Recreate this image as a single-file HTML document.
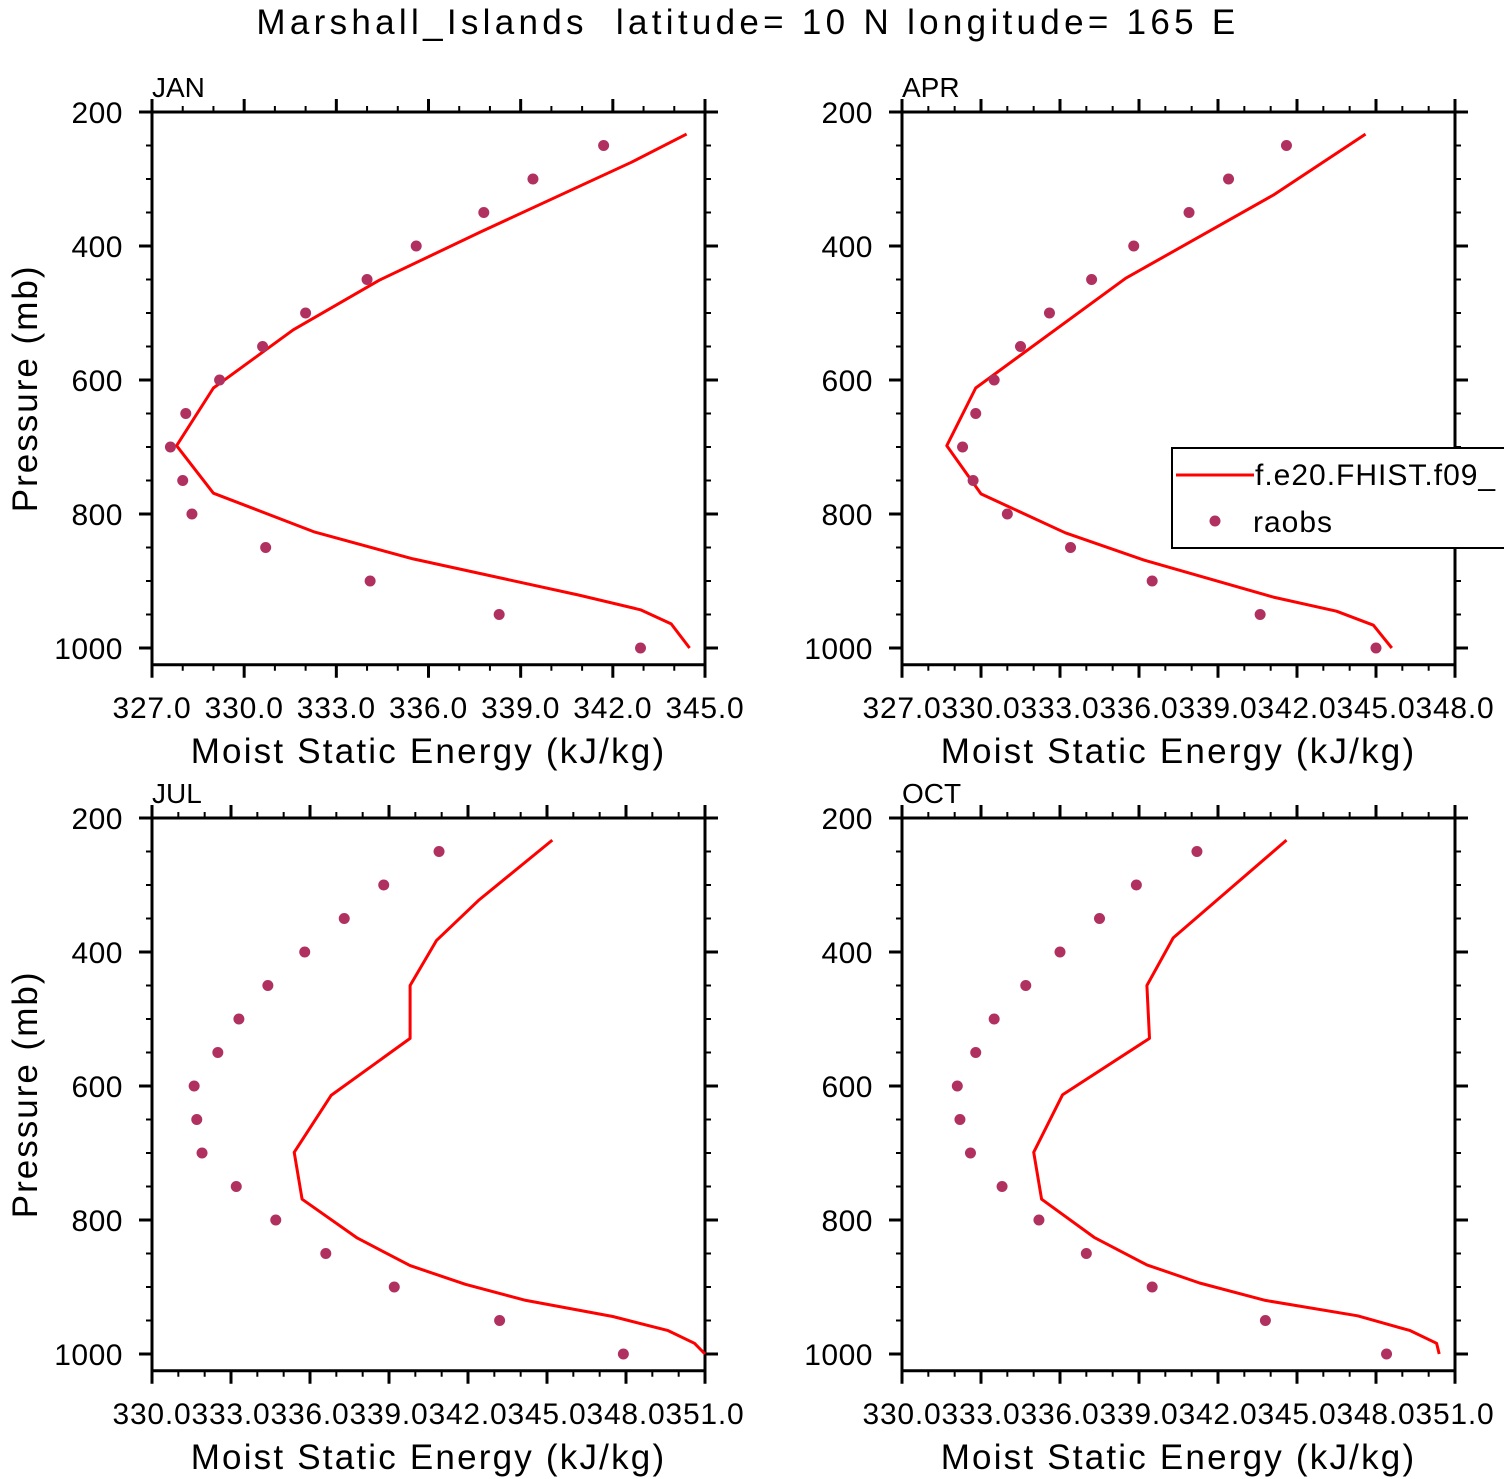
<!DOCTYPE html>
<html><head><meta charset="utf-8"><style>
html,body{margin:0;padding:0;background:#fff;}
svg{display:block;font-family:"Liberation Sans",sans-serif;}
</style></head><body>
<svg id="fig" width="1504" height="1479" viewBox="0 0 1504 1479">
<text x="748" y="34" text-anchor="middle" font-size="35" letter-spacing="4.3" style="white-space:pre">Marshall_Islands  latitude= 10 N longitude= 165 E</text>
</svg>
<script>
// Panel data
const janModelP = [233,275,379,451,525,612,698,769,827,867,921,943,964,1000];
const janModelV = [344.4,342.6,337.7,334.4,331.6,329.0,327.8,329.0,332.3,335.5,340.9,342.9,343.9,344.5];
const aprModelP = [233,324,448,612,698,770,828,869,924,945,966,1000];
const aprModelV = [344.6,341.1,335.5,329.8,328.7,330.0,333.2,336.2,341.1,343.5,344.9,345.6];
const julModelP = [233,323,383,450,529,614,699,769,827,868,896,920,944,965,984,1000];
const julModelV = [345.2,342.4,340.8,339.8,339.8,336.8,335.4,335.7,337.8,339.8,341.9,344.2,347.5,349.6,350.6,351.0];
const octModelP = [233,379,450,529,613,699,769,826,867,894,920,943,965,984,1000];
const octModelV = [344.6,340.3,339.3,339.4,336.1,335.0,335.3,337.3,339.3,341.3,343.8,347.3,349.3,350.3,350.4];
const obsP = [250,300,350,400,450,500,550,600,650,700,750,800,850,900,950,1000];
const janObsV = [341.7,339.4,337.8,335.6,334.0,332.0,330.6,329.2,328.1,327.6,328.0,328.3,330.7,334.1,338.3,342.9];
const aprObsV = [341.6,339.4,337.9,335.8,334.2,332.6,331.5,330.5,329.8,329.3,329.7,331.0,333.4,336.5,340.6,345.0];
const julObsV = [340.9,338.8,337.3,335.8,334.4,333.3,332.5,331.6,331.7,331.9,333.2,334.7,336.6,339.2,343.2,347.9];
const octObsV = [341.2,338.9,337.5,336.0,334.7,333.5,332.8,332.1,332.2,332.6,333.8,335.2,337.0,339.5,343.8,348.4];
const yTickLabels = ["200","400","600","800","1000"];

const NS="http://www.w3.org/2000/svg";
const svg=document.getElementById('fig');
function mk(tag,attrs,parent){const e=document.createElementNS(NS,tag);for(const k in attrs)e.setAttribute(k,attrs[k]);(parent||svg).appendChild(e);return e;}

const panels=[
 {name:"jan",label:"JAN",x0:152,x1:705,y0:112,xmin:327,xmax:345,mp:janModelP,mv:janModelV,ov:janObsV,showYTitle:true,legend:false},
 {name:"apr",label:"APR",x0:902,x1:1455,y0:112,xmin:327,xmax:348,mp:aprModelP,mv:aprModelV,ov:aprObsV,showYTitle:false,legend:true},
 {name:"jul",label:"JUL",x0:152,x1:705,y0:818,xmin:330,xmax:351,mp:julModelP,mv:julModelV,ov:julObsV,showYTitle:true,legend:false},
 {name:"oct",label:"OCT",x0:902,x1:1455,y0:818,xmin:330,xmax:351,mp:octModelP,mv:octModelV,ov:octObsV,showYTitle:false,legend:false}
];
const PPX=0.67;
panels.forEach(P=>{
 const g=mk('g',{});
 
 
 const xs=v=>P.x0+(v-P.xmin)/(P.xmax-P.xmin)*(P.x1-P.x0);
 const ys=p=>P.y0+(p-200)*PPX;
 const yb=ys(1025);
 for(let p=200;p<=1000;p+=50){
  const maj=(p%200===0);const L=maj?13:6;const y=ys(p);
  const t1=mk('line',{x1:P.x0-L,x2:P.x0,y1:y,y2:y,stroke:'#000','stroke-width':maj?3:2},g);
  
  
  const t2=mk('line',{x1:P.x1,x2:P.x1+L,y1:y,y2:y,stroke:'#000','stroke-width':maj?3:2},g);
  
  
 }
 yTickLabels.forEach(s=>{
  const t=mk('text',{x:P.x0-29,y:ys(+s)+11,'text-anchor':'end','font-size':30,'letter-spacing':0.5},g);
  t.textContent=s;
  
  
 });
 for(let v=P.xmin;v<=P.xmax+1e-9;v+=1){
  const maj=((v-P.xmin)%3===0);const L=maj?13:6;const x=xs(v);
  const a=mk('line',{x1:x,x2:x,y1:P.y0-L,y2:P.y0,stroke:'#000','stroke-width':maj?3:2},g);
  
  
  const b=mk('line',{x1:x,x2:x,y1:yb,y2:yb+L,stroke:'#000','stroke-width':maj?3:2},g);
  
  
  if(maj){
   const t=mk('text',{x:x,y:yb+53,'text-anchor':'middle','font-size':30,'letter-spacing':0.8},g);
   t.textContent=v.toFixed(1);
   
   
  }
 }
 const fr=mk('rect',{x:P.x0,y:P.y0,width:P.x1-P.x0,height:yb-P.y0,fill:'none',stroke:'#000','stroke-width':3},g);
 
 
 const lb=mk('text',{x:P.x0,y:P.y0-15,'font-size':28},g);
 lb.textContent=P.label;
 
 
 const xt=mk('text',{x:(P.x0+P.x1)/2,y:yb+98,'text-anchor':'middle','font-size':35,'letter-spacing':2.2},g);
 xt.textContent='Moist Static Energy (kJ/kg)';
 
 
 if(P.showYTitle){
  const yt=mk('text',{x:0,y:0,'text-anchor':'middle','font-size':35,'letter-spacing':2,transform:`translate(37,${(P.y0+yb)/2}) rotate(-90)`},g);
  yt.textContent='Pressure (mb)';
  
  
 }
 const pts=P.mp.map((p,i)=>xs(P.mv[i]).toFixed(1)+','+ys(p).toFixed(1)).join(' ');
 const pl=mk('polyline',{points:pts,fill:'none',stroke:'#ff0000','stroke-width':3,'stroke-linejoin':'round'},g);
 
 
 obsP.forEach((p,i)=>{
  const c=mk('circle',{cx:xs(P.ov[i]),cy:ys(p),r:5.5,fill:'#b03060'},g);
  
  
 });
 if(P.legend){
  const lg=mk('g',{},g);
  
  
  mk('rect',{x:1172,y:448,width:340,height:100,fill:'#fff',stroke:'#000','stroke-width':2},lg);
  const l1=mk('line',{x1:1176,x2:1254,y1:475,y2:475,stroke:'#ff0000','stroke-width':3},lg);
  
  
  const t1=mk('text',{x:1255,y:485,'font-size':30,'letter-spacing':1},lg);t1.textContent='f.e20.FHIST.f09_';
  
  
  const c=mk('circle',{cx:1215,cy:521,r:5.5,fill:'#b03060'},lg);
  
  
  const t2=mk('text',{x:1253,y:532,'font-size':30,'letter-spacing':1},lg);t2.textContent='raobs';
  
  
 }
});
</script>
</body></html>
